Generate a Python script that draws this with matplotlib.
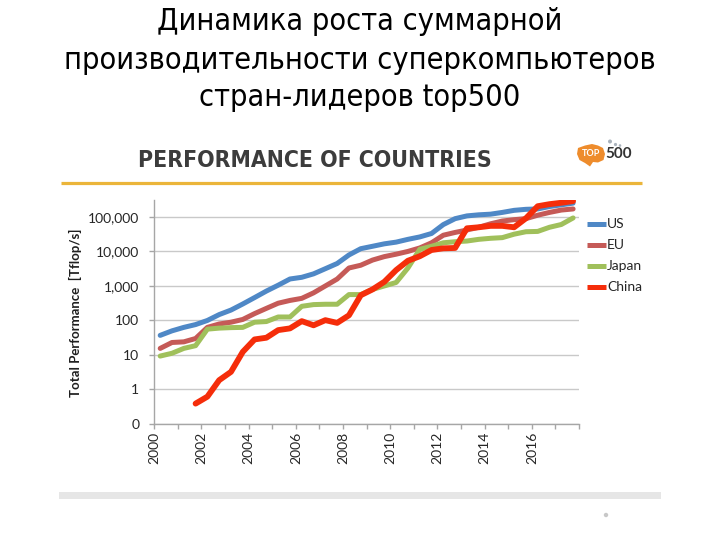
import numpy as np
import matplotlib
matplotlib.use("Agg")
import matplotlib.pyplot as plt
from matplotlib.patches import Polygon, Rectangle, Circle
from matplotlib.ticker import NullLocator

# ---------------- data (Tflop/s, semiannual TOP500 lists, Jun/Nov 2000-2017) ----------------
periods = [f"{y}-{m}" for y in range(2000, 2018) for m in ("06", "11")]

us = [37, 50, 63, 76, 100, 148, 200, 300, 460, 710, 1050, 1590, 1780, 2240, 3160, 4470,
      7900, 12000, 14100, 16600, 18600, 22400, 26300, 33100, 60000, 89000, 107000, 115000,
      120000, 135000, 155000, 166000, 170000, 200000, 224000, 251000]
eu = [15.5, 23, 24, 30, 63, 79, 89, 107, 158, 224, 316, 380, 437, 631, 1000, 1585,
      3310, 3980, 5620, 7080, 8320, 10000, 12600, 17800, 29500, 35500, 41700, 50100,
      63100, 75900, 83200, 89100, 112000, 135000, 158000, 170000]
japan = [9.3, 11.2, 15.5, 18.6, 56, 60, 62, 63, 89, 93, 126, 126, 257, 288, 295, 295,
         562, 562, 794, 1000, 1260, 3310, 11500, 14100, 17800, 19100, 20000, 22400,
         24000, 25100, 31600, 37200, 38000, 50100, 60300, 93300]
china = [np.nan, np.nan, np.nan, 0.39, 0.62, 1.86, 3.24, 12.3, 28.2, 31.6, 52.5, 58.9,
         95.5, 72.4, 102, 85.1, 141, 537, 794, 1320, 2880, 5370, 7240, 11000, 12300,
         12600, 46800, 50100, 55000, 55000, 50100, 91200, 204000, 234000, 257000, 288000]

series_names = ["US", "EU", "Japan", "China"]
series_values = [us, eu, japan, china]
series_colors = ["#4F88C6", "#C55A57", "#A0C05B", "#F52D0A"]
series_widths = [3.6, 3.6, 3.6, 4.2]

years = list(range(2000, 2019))
ytick_values = [0.1, 1, 10, 100, 1000, 10000, 100000]
ytick_labels = ["0", "1", "10", "100", "1,000", "10,000", "100,000"]

title_lines = ["Динамика роста суммарной",
               "производительности суперкомпьютеров",
               "стран-лидеров top500"]
header = "PERFORMANCE OF COUNTRIES"
ylabel = "Total Performance  [Tflop/s]"

# ---------------- figure ----------------
W, H = 720, 540
fig = plt.figure(figsize=(7.2, 5.4), dpi=100)
fig.patch.set_facecolor("white")

bg = fig.add_axes([0, 0, 1, 1])
bg.set_xlim(0, W)
bg.set_ylim(H, 0)
bg.axis("off")

sans = ["Lato", "DejaVu Sans"]

# title
for txt, yb in zip(title_lines, [30, 69, 106]):
    bg.text(360, yb, txt, ha="center", va="baseline", fontsize=22,
            family="DejaVu Sans", fontstretch="condensed", color="#000000")

# header + rule
bg.text(138, 166.7, header, ha="left", va="baseline", fontsize=16.5,
        fontweight="bold", color="#3C3C3C", family="DejaVu Sans",
        fontstretch="condensed")
bg.plot([60.7, 641.7], [182.7, 182.7], color="#EBB53A", lw=2.3,
        solid_capstyle="butt")

# TOP500 logo
logo = Polygon([(578, 148), (585, 145.5), (592, 144), (598, 145.5), (603, 148),
                (605, 154), (603.5, 160), (598, 162.5), (593, 162), (590, 166.5),
                (585, 163), (579.5, 160), (577, 154)], closed=True,
               facecolor="#EE8C2C", edgecolor="none")
bg.add_patch(logo)
bg.text(591, 154, "TOP", ha="center", va="center", fontsize=6.5,
        fontweight="bold", color="white", family=sans)
bg.text(605.5, 154, "500", ha="left", va="center", fontsize=11,
        fontweight="bold", color="#333333", family=sans)
for (cx, cy, r) in [(610, 141.5, 2.0), (615.5, 144.5, 1.6), (620, 145.5, 1.3)]:
    bg.add_patch(Circle((cx, cy), r, facecolor="#A9B2BC", edgecolor="none"))

# y label
bg.text(75, 312.5, ylabel, rotation=90, ha="center", va="center",
        fontsize=9.5, fontweight="bold", color="#1F1F1F", family=sans)

# legend
for i, (name, col) in enumerate(zip(series_names, series_colors)):
    yy = 224 + i * 21.1
    bg.plot([587, 606], [yy, yy], color=col, lw=3.6, solid_capstyle="butt")
    bg.text(607, yy, name, ha="left", va="center", fontsize=10,
            color="#262626", family=sans)

# bottom bar
bg.add_patch(Rectangle((58.7, 491.7), 602, 6.8, facecolor="#E6E6E6",
                       edgecolor="none"))
bg.add_patch(Circle((606, 515), 2.2, facecolor="#C8C8C8", edgecolor="none"))

# ---------------- main chart ----------------
ax = fig.add_axes([154.3 / W, 1 - 424 / H, (579 - 154.3) / W, (424 - 200) / H])
ax.patch.set_alpha(0)

x = np.arange(len(periods))
for vals, col, lw in zip(series_values, series_colors, series_widths):
    ax.plot(x, vals, color=col, lw=lw, solid_joinstyle="round",
            solid_capstyle="round", zorder=3)

ax.set_yscale("log")
ax.set_ylim(0.1, 10 ** 5.49)
ax.set_xlim(-0.5, len(periods) - 0.5)
ax.set_yticks(ytick_values)
ax.set_yticklabels(ytick_labels)
ax.yaxis.set_minor_locator(NullLocator())

xt = [-0.5 + 2 * i for i in range(len(years))]
ax.set_xticks(xt)
ax.set_xticklabels([str(y) if (y % 2 == 0 and y < 2018) else "" for y in years],
                   rotation=90, ha="center", va="top")

ax.grid(axis="y", color="#C9C9C9", lw=1, zorder=1)
for s in ("top", "right"):
    ax.spines[s].set_visible(False)
for s in ("left", "bottom"):
    ax.spines[s].set_color("#A6A6A6")
    ax.spines[s].set_linewidth(1)
ax.tick_params(axis="both", color="#A6A6A6", length=3.6, width=1,
               labelsize=10, labelcolor="#262626")
ax.tick_params(axis="y", pad=7.2)
ax.tick_params(axis="x", pad=2)
for lab in ax.get_xticklabels() + ax.get_yticklabels():
    lab.set_family(sans)

fig.savefig("out.png", dpi=100, facecolor="white")
